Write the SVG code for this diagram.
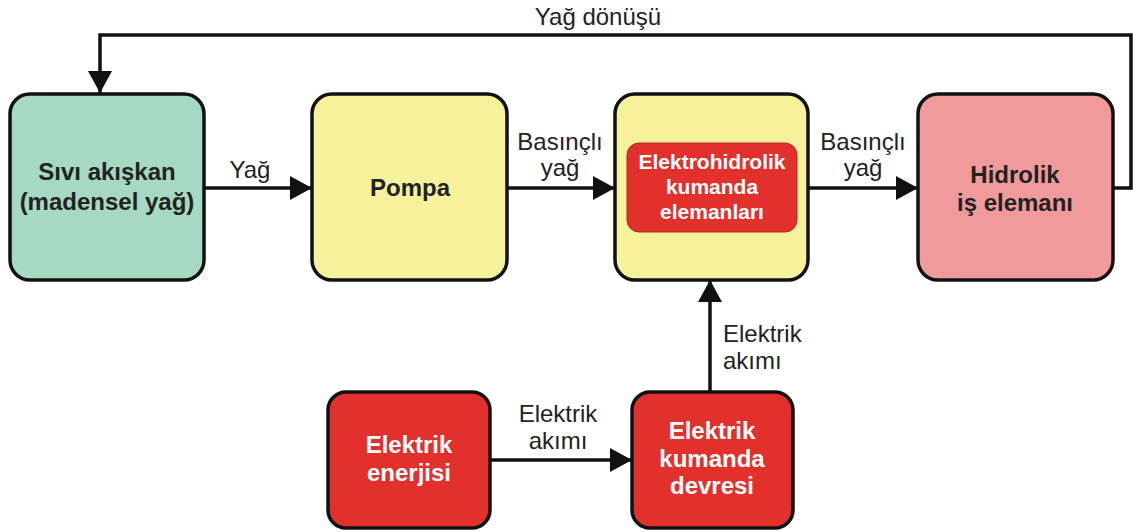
<svg xmlns="http://www.w3.org/2000/svg" width="1133" height="532" viewBox="0 0 1133 532">
<style>
.box{stroke:#111;stroke-width:3.5}
.t{font-family:"Liberation Sans",Arial,sans-serif;font-weight:bold;font-size:24px;fill:#222;text-anchor:middle}
.w{fill:#fff}
.l{font-family:"Liberation Sans",Arial,sans-serif;font-size:24px;fill:#222;text-anchor:middle}
.c{fill:none;stroke:#111;stroke-width:3.5}
</style>
<defs>
<marker id="a" viewBox="0 0 22 24" refX="22" refY="12" markerWidth="22" markerHeight="24" markerUnits="userSpaceOnUse" orient="auto">
<path d="M0,0 L22,12 L0,24 Z" fill="#111"/>
</marker>
</defs>
<rect width="1133" height="532" fill="#fff"/>
<g id="connectors">
<path class="c" d="M1113,188 H1131 V35 H100 V93" marker-end="url(#a)"/>
<path class="c" d="M204,188 H312" marker-end="url(#a)"/>
<path class="c" d="M507,188 H615" marker-end="url(#a)"/>
<path class="c" d="M808,188 H918" marker-end="url(#a)"/>
<path class="c" d="M490,460 H632" marker-end="url(#a)"/>
<path class="c" d="M710,392 V280" marker-end="url(#a)"/>
<text class="l" x="598" y="25">Yağ dönüşü</text>
<text class="l" x="250" y="178">Yağ</text>
<text class="l" x="560" y="150">Basınçlı</text>
<text class="l" x="560" y="176">yağ</text>
<text class="l" x="863" y="150">Basınçlı</text>
<text class="l" x="863" y="176">yağ</text>
<text class="l" x="558" y="422">Elektrik</text>
<text class="l" x="558" y="449">akımı</text>
<text class="l" x="723" y="342" style="text-anchor:start">Elektrik</text>
<text class="l" x="723" y="369" style="text-anchor:start">akımı</text>
</g>
<g id="sivi">
<rect class="box" x="10" y="94" width="194" height="186" rx="20" fill="#a6d9c1"/>
<text class="t" x="107" y="180">Sıvı akışkan</text>
<text class="t" x="107" y="210">(madensel yağ)</text>
</g>
<g id="pompa">
<rect class="box" x="312" y="94" width="195" height="186" rx="20" fill="#f6f29c"/>
<text class="t" x="410" y="196">Pompa</text>
</g>
<g id="elektrohidrolik">
<rect class="box" x="615" y="94" width="193" height="186" rx="20" fill="#f6f29c"/>
<rect x="627" y="143" width="170" height="89" rx="12" fill="#e2312d" stroke="#b52520" stroke-width="1"/>
<text class="t w" x="712" y="169" style="font-size:21px">Elektrohidrolik</text>
<text class="t w" x="712" y="194" style="font-size:21px">kumanda</text>
<text class="t w" x="712" y="219" style="font-size:21px">elemanları</text>
</g>
<g id="hidrolik">
<rect class="box" x="918" y="94" width="195" height="186" rx="20" fill="#f19a9c"/>
<text class="t" x="1015" y="183">Hidrolik</text>
<text class="t" x="1015" y="211">iş elemanı</text>
</g>
<g id="enerji">
<rect class="box" x="328" y="392" width="162" height="136" rx="18" fill="#e2312d"/>
<text class="t w" x="409" y="453">Elektrik</text>
<text class="t w" x="409" y="481">enerjisi</text>
</g>
<g id="devre">
<rect class="box" x="632" y="392" width="161" height="136" rx="18" fill="#e2312d"/>
<text class="t w" x="712" y="439">Elektrik</text>
<text class="t w" x="712" y="467">kumanda</text>
<text class="t w" x="712" y="494">devresi</text>
</g>
</svg>
